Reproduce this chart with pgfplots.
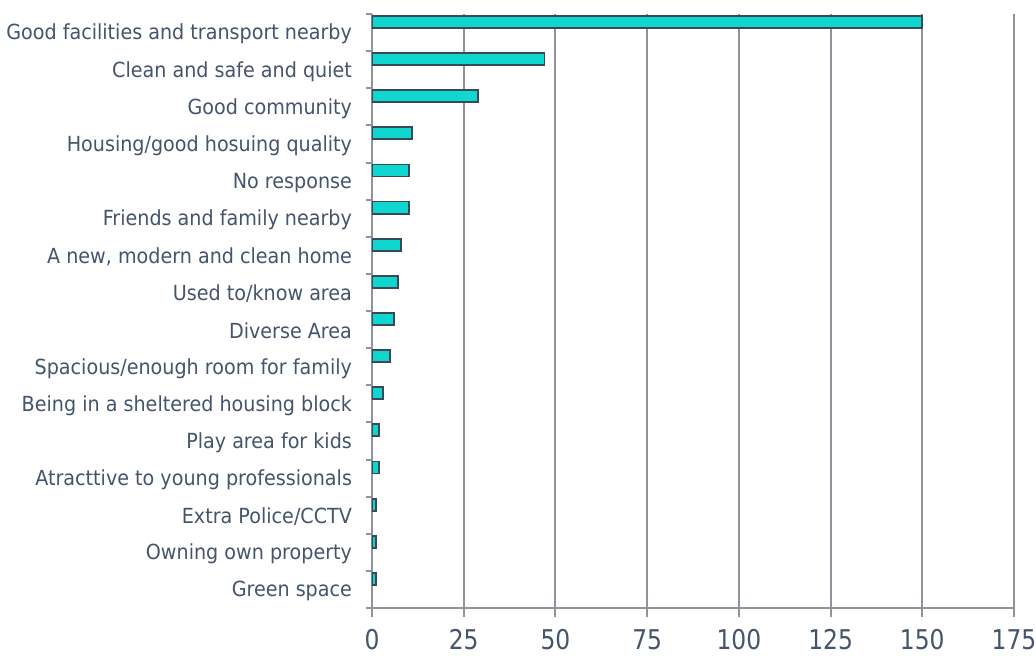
\documentclass[border=0pt]{standalone}
\usepackage{fontspec}
\setmainfont{DejaVu Sans}[FakeStretch=0.92]
\newfontfamily\tickfont{DejaVu Sans}[FakeStretch=0.86]
\usepackage{pgfplots}
\pgfplotsset{compat=1.18}
\definecolor{txt}{HTML}{44546A}
\definecolor{barfill}{HTML}{0FD6CF}
\definecolor{baredge}{HTML}{3A4858}
\definecolor{gridc}{HTML}{8E939C}
\begin{document}
\begin{tikzpicture}
\begin{axis}[
  scale only axis,
  width=321pt, height=297pt,
  xbar,
  xmin=0, xmax=175,
  ymin=-0.5, ymax=15.5,
  y dir=reverse,
  axis lines*=left,
  axis line style={gridc, line width=1pt},
  xtick={0,25,...,175},
  xmajorgrids,
  major grid style={gridc, line width=1pt},
  tick align=outside,
  major tick length=4.5pt,
  minor tick length=3.2pt,
  major x tick style={gridc, line width=1pt},
  major y tick style={draw=none},
  minor y tick style={gridc, line width=1pt},
  ytick={0,...,15},
  minor ytick={-0.5,0.5,...,15.5},
  yticklabels={Good facilities and transport nearby,Clean and safe and quiet,Good community,Housing/good hosuing quality,No response,Friends and family nearby,{A new, modern and clean home},Used to/know area,Diverse Area,Spacious/enough room for family,Being in a sheltered housing block,Play area for kids,Atracttive to young professionals,Extra Police/CCTV,Owning own property,Green space},
  yticklabel style={font=\fontsize{10.4pt}{12pt}\selectfont, text=txt, xshift=-2pt, yshift=-0.8pt},
  xticklabel style={font=\tickfont\fontsize{13.6pt}{15pt}\selectfont, text=txt, inner sep=0.5pt, yshift=-5.5pt},
  /pgf/number format/assume math mode=true,
  bar width=6pt,
  bar shift=5.3pt,
]
\addplot[fill=barfill, draw=baredge, line width=0.9pt] coordinates {
(150,0) (47,1) (29,2) (11,3) (10,4) (10,5) (8,6) (7,7)
(6,8) (5,9) (3,10) (2,11) (2,12) (1,13) (1,14) (1,15)};
\coordinate (O) at (rel axis cs:0,0);
\end{axis}
\pgfresetboundingbox
\path[use as bounding box] (O) ++(-186pt,-23.5pt) rectangle ++(518pt,327.5pt);
\end{tikzpicture}
\end{document}
